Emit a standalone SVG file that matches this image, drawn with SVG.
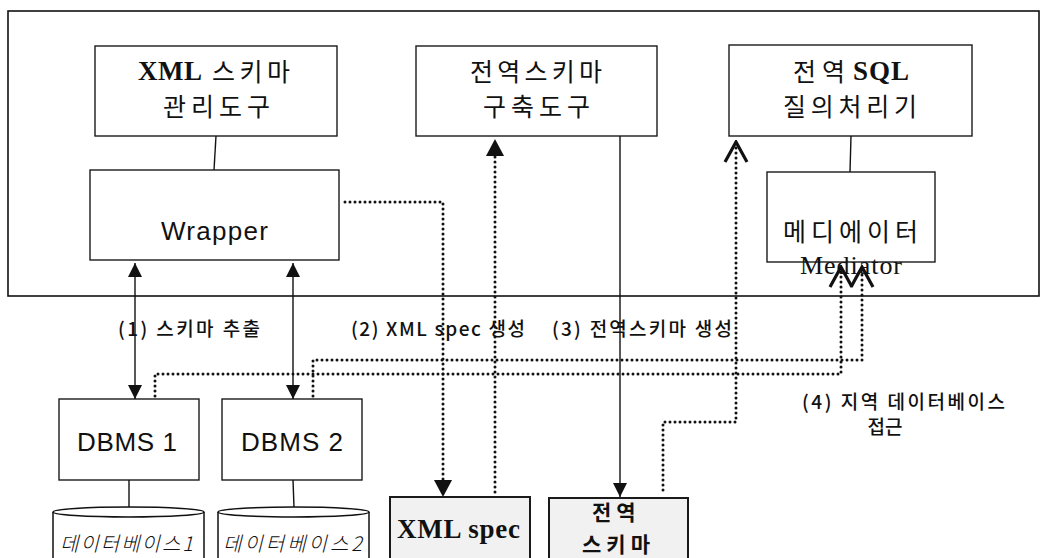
<svg xmlns="http://www.w3.org/2000/svg" width="1044" height="558" viewBox="0 0 1044 558">
<style>
.box{fill:#fff;stroke:#1a1a1a;stroke-width:1.4}
.shade{fill:#f1f1f1;stroke:#1a1a1a;stroke-width:2}
.ln{fill:none;stroke:#111;stroke-width:1.4}
.dot{fill:none;stroke:#111;stroke-width:3;stroke-linecap:round;stroke-dasharray:0 5}
.ko{font-family:"Liberation Sans","Noto Sans CJK KR",sans-serif;fill:#111}
.kr{font-family:"Noto Sans CJK KR","Liberation Sans",sans-serif;fill:#111}
.sb{font-family:"Liberation Serif","Noto Sans CJK KR",serif;font-weight:bold;fill:#111}
.sr{font-family:"Liberation Serif",serif;fill:#111}
.db{fill:#fff;stroke:#111;stroke-width:1.5}
.lbl{font-family:"Noto Sans CJK KR","Liberation Sans",sans-serif;font-size:19px;font-weight:500;fill:#111}
</style>
<defs>
<marker id="aS" markerUnits="userSpaceOnUse" viewBox="0 0 14 14" refX="14" refY="7" markerWidth="14" markerHeight="14" orient="auto-start-reverse"><path d="M0,0 L14,7 L0,14 Z" fill="#111"/></marker>
<marker id="aL" markerUnits="userSpaceOnUse" viewBox="0 0 17 18" refX="17" refY="9" markerWidth="17" markerHeight="18" orient="auto"><path d="M0,0 L17,9 L0,18 Z" fill="#111"/></marker>
<marker id="chev" markerUnits="userSpaceOnUse" viewBox="-2 -2 24 26" refX="20" refY="11" markerWidth="24" markerHeight="26" orient="auto"><path d="M0,0 L20,11 L0,22" fill="none" stroke="#111" stroke-width="3.2"/></marker>
</defs>

<g id="frame"><rect x="8" y="11" width="1031" height="285" fill="#fff" stroke="#111" stroke-width="1.6"/></g>

<g id="xml-schema-tool">
<rect class="box" x="95" y="46" width="242" height="90"/>
<text class="sb" x="138" y="80" font-size="27" textLength="64">XML</text>
<text class="kr" x="212" y="81" font-size="25" textLength="78">스키마</text>
<text class="kr" x="163" y="116" font-size="25" textLength="107">관리도구</text>
</g>

<g id="global-schema-tool">
<rect class="box" x="416" y="46" width="241" height="90"/>
<text class="kr" x="470" y="81" font-size="25" textLength="132">전역스키마</text>
<text class="kr" x="483" y="116" font-size="25" textLength="107">구축도구</text>
</g>

<g id="sql-processor">
<rect class="box" x="729" y="45" width="243" height="91"/>
<text class="kr" x="793" y="81" font-size="25" textLength="52">전역</text>
<text class="sb" x="853" y="80" font-size="27" textLength="56">SQL</text>
<text class="kr" x="783" y="116" font-size="25" textLength="134">질의처리기</text>
</g>

<g id="wrapper">
<rect class="box" x="90" y="170" width="249" height="90"/>
<text class="ko" x="161" y="240" font-size="26" textLength="107">Wrapper</text>
</g>

<g id="mediator">
<rect class="box" x="767" y="172" width="168" height="90"/>
<text class="kr" x="783" y="241" font-size="25" textLength="135">메디에이터</text>
<text class="sr" x="800" y="274" font-size="26" textLength="102">Mediator</text>
</g>

<g id="dbms1">
<rect class="box" x="59" y="399" width="140" height="81"/>
<text class="ko" x="77" y="451" font-size="26" textLength="100">DBMS 1</text>
</g>

<g id="dbms2">
<rect class="box" x="222" y="399" width="140" height="81"/>
<text class="ko" x="241" y="451" font-size="26" textLength="102">DBMS 2</text>
</g>

<g id="database1">
<path class="db" d="M53,512 L53,562 L204,562 L204,512"/>
<ellipse class="db" cx="128.5" cy="512" rx="75.5" ry="5" stroke-width="2.2"/>
<text class="kr" x="60" y="551" font-size="20" font-style="italic" font-weight="300" textLength="133">데이터베이스1</text>
</g>

<g id="database2">
<path class="db" d="M218,512 L218,562 L369,562 L369,512"/>
<ellipse class="db" cx="293.5" cy="512" rx="75.5" ry="5" stroke-width="2.2"/>
<text class="kr" x="223" y="551" font-size="20" font-style="italic" font-weight="300" textLength="139">데이터베이스2</text>
</g>

<g id="xml-spec">
<rect class="shade" x="390" y="497" width="140" height="70"/>
<text class="sb" x="397" y="538" font-size="27" textLength="123">XML spec</text>
</g>

<g id="global-schema">
<rect class="shade" x="549" y="498" width="139" height="70" fill="#f6f6f6"/>
<text class="kr" x="592" y="520" font-size="21" font-weight="bold" letter-spacing="5">전역</text>
<text class="kr" x="582" y="552" font-size="21" font-weight="bold" letter-spacing="5">스키마</text>
</g>

<g id="connectors">
<line class="ln" x1="216" y1="136" x2="214" y2="170"/>
<line class="ln" x1="851" y1="136" x2="850" y2="172"/>
<line class="ln" x1="129" y1="480" x2="129" y2="507"/>
<line class="ln" x1="293" y1="480" x2="294" y2="507"/>
<line class="ln" x1="135" y1="263" x2="135" y2="399" marker-start="url(#aS)" marker-end="url(#aS)"/>
<line class="ln" x1="293" y1="263" x2="293" y2="399" marker-start="url(#aS)" marker-end="url(#aS)"/>
<line class="ln" x1="620" y1="136" x2="620" y2="497" marker-end="url(#aS)"/>
<path class="dot" d="M345,202 H443 V480"/>
<line x1="443" y1="470" x2="443" y2="497" stroke="none" marker-end="url(#aL)"/>
<path class="dot" d="M495,492 V155"/>
<line x1="495" y1="160" x2="495" y2="139" stroke="none" marker-end="url(#aL)"/>
<path class="dot" d="M663,490 V422 H736 V142" marker-end="url(#chev)"/>
<path class="dot" d="M155,396 V374 H841 V267" marker-end="url(#chev)"/>
<path class="dot" d="M313,396 V360 H862 V267" marker-end="url(#chev)"/>
</g>

<g id="labels">
<text class="lbl" x="118" y="336" textLength="142">(1) 스키마 추출</text>
<text class="lbl" x="351" y="336" textLength="174">(2) XML spec 생성</text>
<text class="lbl" x="552" y="336" textLength="180">(3) 전역스키마 생성</text>
<text class="lbl" x="802" y="409" textLength="203">(4) 지역 데이터베이스</text>
<text class="lbl" x="885" y="434" text-anchor="middle">접근</text>
</g>
</svg>
